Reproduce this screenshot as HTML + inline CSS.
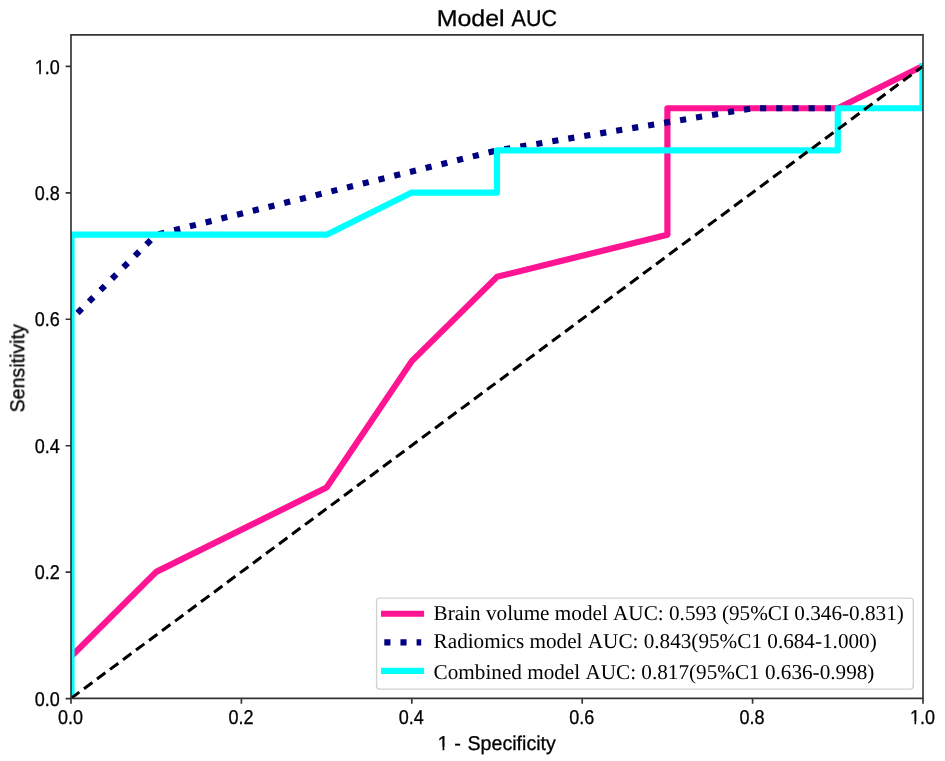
<!DOCTYPE html>
<html><head><meta charset="utf-8"><style>
html,body{margin:0;padding:0;background:#fff;}
svg{display:block;}
text{text-rendering:geometricPrecision;}
.g{filter:grayscale(1);}
.t{font-family:"Liberation Sans",sans-serif;fill:#000;stroke:#000;stroke-width:0.3px;}
.s{font-family:"Liberation Serif",serif;fill:#000;font-kerning:none;}
</style></head><body>
<svg width="945" height="761" viewBox="0 0 945 761">
<defs><clipPath id="ax"><rect x="71.0" y="34.8" width="852.0" height="663.6"/></clipPath></defs>
<rect x="0" y="0" width="945" height="761" fill="#fff"/>
<g clip-path="url(#ax)" fill="none" stroke-linejoin="round">
<path d="M71.50,656.15 L156.20,571.86 L326.60,487.57 L411.80,361.13 L497.00,276.83 L667.40,234.69 L667.40,108.25 L837.80,108.25 L922.50,66.10" stroke="#ff1493" stroke-width="6.2" stroke-linecap="square"/>
<path d="M71.50,318.98 L156.20,234.69 L497.00,150.39 L752.60,108.25 L837.80,108.25" stroke="#000080" stroke-width="6.15" stroke-dasharray="6.15 10.04" stroke-dashoffset="7.690"/>
<path d="M71.50,698.30 L71.50,234.69 L326.60,234.69 L411.80,192.54 L497.00,192.54 L497.00,150.39 L837.80,150.39 L837.80,108.25 L922.50,108.25 L922.50,66.10" stroke="#00ffff" stroke-width="6.2" stroke-linecap="square"/>
<path d="M71.0,698.3 L923.0,66.09999999999991" stroke="#000" stroke-width="3.05" stroke-dasharray="10.4 5.79"/>
</g>
<g stroke="#333333" stroke-width="1.65" fill="none" stroke-linecap="square">
<path d="M71.0,34.8 H923.0 V698.4 H71.0 Z"/>
<path d="M71.00,698.4v5.4M241.40,698.4v5.4M411.80,698.4v5.4M582.20,698.4v5.4M752.60,698.4v5.4M923.00,698.4v5.4M71.0,698.60h-5.4M71.0,572.16h-5.4M71.0,445.72h-5.4M71.0,319.28h-5.4M71.0,192.84h-5.4M71.0,66.40h-5.4" stroke-linecap="butt"/>
</g>
<g class="g">
<g transform="translate(59.7,705.50) scale(0.9,1)"><text class="t" font-size="20" text-anchor="end">0.0</text></g>
<g transform="translate(59.7,579.06) scale(0.9,1)"><text class="t" font-size="20" text-anchor="end">0.2</text></g>
<g transform="translate(59.7,452.62) scale(0.9,1)"><text class="t" font-size="20" text-anchor="end">0.4</text></g>
<g transform="translate(59.7,326.18) scale(0.9,1)"><text class="t" font-size="20" text-anchor="end">0.6</text></g>
<g transform="translate(59.7,199.74) scale(0.9,1)"><text class="t" font-size="20" text-anchor="end">0.8</text></g>
<g transform="translate(59.7,74.30) scale(0.9,1)"><text class="t" font-size="20" text-anchor="end">1.0</text><rect x="-27.479" y="-2.394" width="4.706" height="3.894" fill="#fff"/><rect x="-21.006" y="-2.394" width="4.350" height="3.894" fill="#fff"/></g>
<g transform="translate(70.50,724.0) scale(0.9,1)"><text class="t" font-size="20" text-anchor="middle">0.0</text></g>
<g transform="translate(240.90,724.0) scale(0.9,1)"><text class="t" font-size="20" text-anchor="middle">0.2</text></g>
<g transform="translate(411.30,724.0) scale(0.9,1)"><text class="t" font-size="20" text-anchor="middle">0.4</text></g>
<g transform="translate(581.70,724.0) scale(0.9,1)"><text class="t" font-size="20" text-anchor="middle">0.6</text></g>
<g transform="translate(752.10,724.0) scale(0.9,1)"><text class="t" font-size="20" text-anchor="middle">0.8</text></g>
<g transform="translate(922.50,724.0) scale(0.9,1)"><text class="t" font-size="20" text-anchor="middle">1.0</text><rect x="-13.578" y="-2.394" width="4.706" height="3.894" fill="#fff"/><rect x="-7.104" y="-2.394" width="4.350" height="3.894" fill="#fff"/></g>
<text class="t" font-size="23" transform="translate(436.7,25.9) scale(1.085,1)">Model</text>
<text class="t" font-size="23" transform="translate(511.6,25.9) scale(0.935,1)">AUC</text>
<g transform="translate(437.53,749.6)"><text class="t" font-size="20">1 -</text><rect x="0.323" y="-2.394" width="4.706" height="3.894" fill="#fff"/><rect x="6.797" y="-2.394" width="4.350" height="3.894" fill="#fff"/></g>
<text class="t" font-size="20" transform="translate(467.45,749.6) scale(0.982,1)">Specificity</text>
<text class="t" font-size="20" text-anchor="middle" transform="translate(24.2,368.35) rotate(-90) scale(0.98,1)">Sensitivity</text>
</g>
<rect x="376.6" y="598.1" width="536.7" height="91.0" rx="3" ry="3" fill="#fff" fill-opacity="0.8" stroke="#d2d2d2" stroke-width="1.4"/>
<line x1="381" y1="613.75" x2="424.1" y2="613.75" stroke="#ff1493" stroke-width="6.2"/>
<line x1="384.3" y1="642.3" x2="421.2" y2="642.3" stroke="#000080" stroke-width="6.15" stroke-dasharray="6.15 10.0"/>
<line x1="381" y1="670.8" x2="424.1" y2="670.8" stroke="#00ffff" stroke-width="6.2"/>
<g class="g">
<text class="s" font-size="21.2" transform="translate(433.6,619.9) scale(1.0,1)">Brain volume model AUC: 0.593 (95%CI 0.346-0.831)</text>
<text class="s" font-size="21.2" transform="translate(433.6,647.9) scale(1.0,1)">Radiomics model AUC: 0.843(95%C1 0.684-1.000)</text>
<text class="s" font-size="21.2" transform="translate(433.6,679.2) scale(1.0,1)">Combined model AUC: 0.817(95%C1 0.636-0.998)</text>
</g>
</svg>
</body></html>
